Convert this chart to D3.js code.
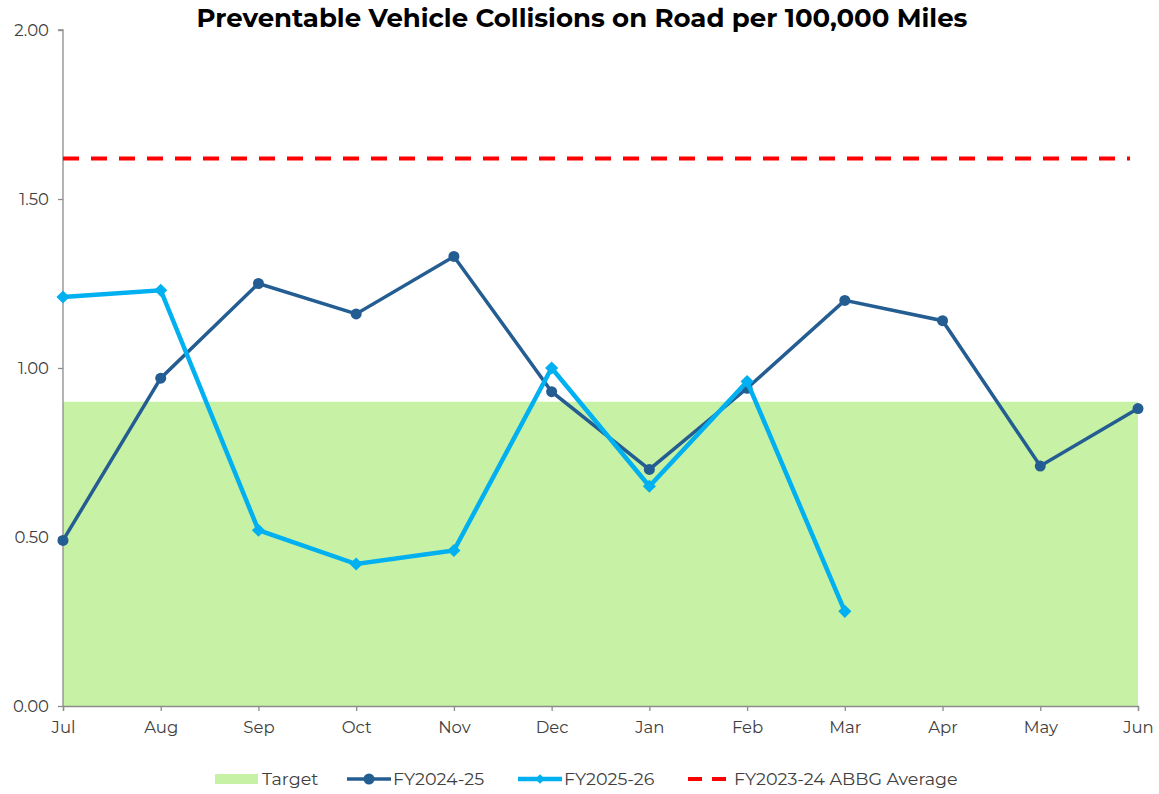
<!DOCTYPE html>
<html>
<head>
<meta charset="utf-8">
<script src="https://cdn.jsdelivr.net/npm/d3@7"></script>
<style>
  body { margin: 0; background: #fff; }
  text { font-family: "Montserrat", "Open Sans", "Noto Sans", sans-serif; }
</style>
</head>
<body>
<div id="chart"></div>
<script>
const months = ['Jul', 'Aug', 'Sep', 'Oct', 'Nov', 'Dec', 'Jan', 'Feb', 'Mar', 'Apr', 'May', 'Jun'];
const fy2425 = [0.49, 0.97, 1.25, 1.16, 1.33, 0.93, 0.70, 0.94, 1.20, 1.14, 0.71, 0.88];
const fy2526 = [1.21, 1.23, 0.52, 0.42, 0.46, 1.00, 0.65, 0.96, 0.28];
const targetValue = 0.90;
const abbgAverage = 1.62;
const yTicks = [0, 0.5, 1.0, 1.5, 2.0];

const width = 1159, height = 794;
const margin = { top: 30, right: 21, bottom: 88, left: 63 };

const svg = d3.select('#chart').append('svg')
  .attr('width', width)
  .attr('height', height);

const x = d3.scalePoint().domain(months).range([margin.left, width - margin.right]);
const y = d3.scaleLinear().domain([0, 2]).range([height - margin.bottom, margin.top]);

// target band
svg.append('path')
  .datum(months)
  .attr('fill', '#c7f1a5')
  .attr('d', d3.area().x(d => x(d)).y0(y(0)).y1(y(targetValue)));

// axes
const yAxis = svg.append('g')
  .attr('transform', `translate(${margin.left},0)`)
  .call(d3.axisLeft(y).tickValues(yTicks).tickFormat(d3.format('.2f')).tickSize(5).tickPadding(9));
const xAxis = svg.append('g')
  .attr('transform', `translate(0,${y(0)})`)
  .call(d3.axisBottom(x).tickSize(5).tickPadding(10));
[yAxis, xAxis].forEach(g => {
  g.select('.domain').attr('stroke', '#8c8c8c').attr('stroke-width', 1.3);
  g.selectAll('.tick line').attr('stroke', '#8c8c8c').attr('stroke-width', 1.3);
  g.selectAll('.tick text').attr('fill', '#404040').style('font-size', '16.5px');
});
yAxis.select('.domain').attr('d', `M-5,${y(2)}H0V${y(0)}`);

// average line
svg.append('line')
  .attr('x1', x('Jul')).attr('x2', x('Jun') - 8)
  .attr('y1', y(abbgAverage)).attr('y2', y(abbgAverage))
  .attr('stroke', '#ff0000')
  .attr('stroke-width', 4)
  .attr('stroke-dasharray', '16 12');

const line = d3.line().x((d, i) => x(months[i])).y(d => y(d));

// FY2024-25
svg.append('path')
  .datum(fy2425)
  .attr('fill', 'none')
  .attr('stroke', '#245d92')
  .attr('stroke-width', 3.5)
  .attr('d', line);
svg.append('g').selectAll('circle')
  .data(fy2425)
  .join('circle')
  .attr('cx', (d, i) => x(months[i]))
  .attr('cy', d => y(d))
  .attr('r', 5.5)
  .attr('fill', '#245d92');

// FY2025-26
svg.append('path')
  .datum(fy2526)
  .attr('fill', 'none')
  .attr('stroke', '#00b0f0')
  .attr('stroke-width', 4.5)
  .attr('d', line);
svg.append('g').selectAll('path')
  .data(fy2526)
  .join('path')
  .attr('transform', (d, i) => `translate(${x(months[i])},${y(d)})`)
  .attr('d', d3.symbol(d3.symbolDiamond2, 110))
  .attr('fill', '#00b0f0');

// title
svg.append('text')
  .attr('x', 582).attr('y', 27)
  .attr('text-anchor', 'middle')
  .style('font-size', '26px')
  .style('font-weight', 'bold')
  .attr('fill', '#000')
  .text('Preventable Vehicle Collisions on Road per 100,000 Miles');

// legend
const legendY = 779;
const legend = svg.append('g').style('font-size', '17.5px');
legend.append('rect').attr('x', 215).attr('y', legendY - 5).attr('width', 43).attr('height', 10).attr('fill', '#c7f1a5');
legend.append('text').attr('x', 262).attr('y', legendY).attr('dy', '0.35em').attr('fill', '#404040').text('Target');

legend.append('line').attr('x1', 347).attr('x2', 391).attr('y1', legendY).attr('y2', legendY).attr('stroke', '#245d92').attr('stroke-width', 3.5);
legend.append('circle').attr('cx', 369).attr('cy', legendY).attr('r', 5.5).attr('fill', '#245d92');
legend.append('text').attr('x', 393).attr('y', legendY).attr('dy', '0.35em').attr('fill', '#404040').text('FY2024-25');

legend.append('line').attr('x1', 518).attr('x2', 562).attr('y1', legendY).attr('y2', legendY).attr('stroke', '#00b0f0').attr('stroke-width', 4.5);
legend.append('path').attr('transform', `translate(540,${legendY})`).attr('d', d3.symbol(d3.symbolDiamond2, 60)).attr('fill', '#00b0f0');
legend.append('text').attr('x', 564).attr('y', legendY).attr('dy', '0.35em').attr('fill', '#404040').text('FY2025-26');

legend.append('line').attr('x1', 688).attr('x2', 731).attr('y1', legendY).attr('y2', legendY).attr('stroke', '#ff0000').attr('stroke-width', 4).attr('stroke-dasharray', '14 10');
legend.append('text').attr('x', 734).attr('y', legendY).attr('dy', '0.35em').attr('fill', '#404040').text('FY2023-24 ABBG Average');
</script>
</body>
</html>
